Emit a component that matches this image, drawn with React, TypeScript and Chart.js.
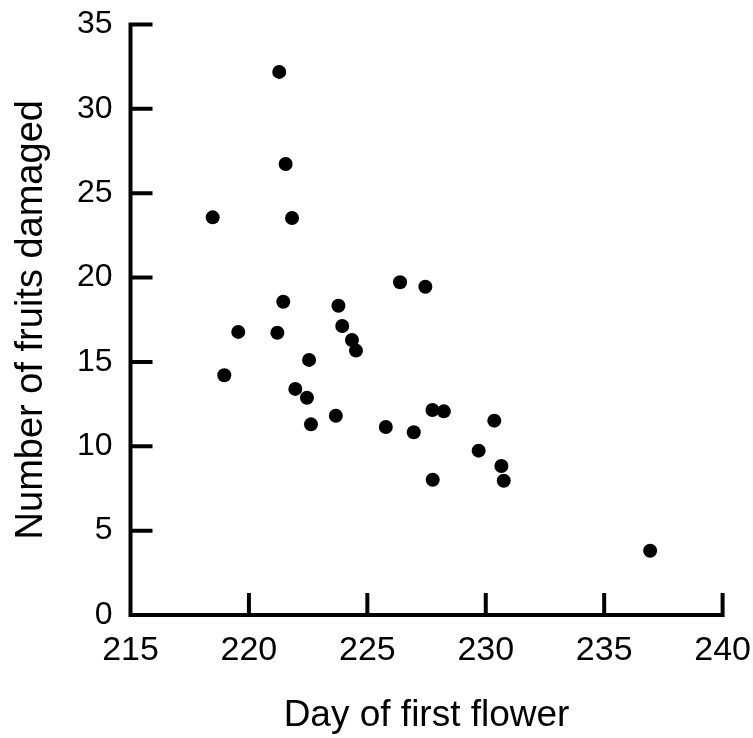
import React, { useEffect, useRef } from "react";
import { Chart, registerables } from "chart.js";

Chart.register(...registerables);

// Day of first flower (x) and number of fruits damaged (y) per plant
const firstFlowerDay: number[] = [
  218.47, 221.28, 221.55, 221.82, 218.96, 219.55, 221.2, 221.45, 221.96, 222.45,
  222.54, 222.62, 223.67, 223.78, 223.94, 224.35, 224.52, 225.78, 226.38, 226.96,
  227.45, 227.75, 228.23, 227.76, 229.7, 230.36, 230.66, 230.76, 236.94,
];
const fruitsDamaged: number[] = [
  23.57, 32.19, 26.73, 23.53, 14.21, 16.78, 16.73, 18.57, 13.4, 12.88,
  15.12, 11.3, 11.81, 18.33, 17.13, 16.3, 15.67, 11.14, 19.72, 10.83,
  19.46, 12.15, 12.07, 8.02, 9.74, 11.52, 8.83, 7.96, 3.81,
];

const xTicks: number[] = [215, 220, 225, 230, 235, 240];
const yTicks: number[] = [0, 5, 10, 15, 20, 25, 30, 35];

const FONT = "'Liberation Sans', Arial, Helvetica, sans-serif";
const W = 753;
const H = 738;

// Axis lines with inward-pointing tick marks
const axesPlugin = {
  id: "inwardAxes",
  beforeDatasetsDraw(chart: any) {
    const { ctx } = chart;
    const xs = chart.scales.x;
    const ys = chart.scales.y;
    const x0 = xs.getPixelForValue(xTicks[0]);
    const x1 = xs.getPixelForValue(xTicks[xTicks.length - 1]);
    const y0 = ys.getPixelForValue(yTicks[0]);
    const y1 = ys.getPixelForValue(yTicks[yTicks.length - 1]);
    const tickLen = 20;
    ctx.save();
    ctx.strokeStyle = "#000";
    ctx.lineWidth = 4;
    ctx.lineCap = "square";
    ctx.beginPath();
    ctx.moveTo(x0, y1);
    ctx.lineTo(x0, y0);
    ctx.lineTo(x1, y0);
    for (const v of yTicks) {
      const py = ys.getPixelForValue(v);
      ctx.moveTo(x0, py);
      ctx.lineTo(x0 + tickLen, py);
    }
    for (const v of xTicks) {
      const px = xs.getPixelForValue(v);
      ctx.moveTo(px, y0);
      ctx.lineTo(px, y0 - tickLen);
    }
    ctx.stroke();
    ctx.restore();
  },
};

const zeroPadding = (scale: any) => {
  scale.paddingTop = 0;
  scale.paddingBottom = 0;
  scale.paddingLeft = 0;
  scale.paddingRight = 0;
};

export default function App() {
  const canvasRef = useRef<HTMLCanvasElement | null>(null);

  useEffect(() => {
    const canvas = canvasRef.current;
    if (!canvas) return;
    const points = firstFlowerDay.map((d, i) => ({ x: d, y: fruitsDamaged[i] }));
    const chart = new Chart(canvas, {
      type: "scatter",
      data: {
        datasets: [
          {
            data: points,
            backgroundColor: "#000",
            borderWidth: 0,
            pointRadius: 7,
            pointHoverRadius: 7,
          },
        ],
      },
      options: {
        responsive: false,
        animation: false,
        events: [],
        layout: { padding: { top: 24.5, right: 30.4, left: 0, bottom: 0 } },
        plugins: {
          legend: { display: false },
          tooltip: { enabled: false },
        },
        scales: {
          x: {
            type: "linear",
            min: 215,
            max: 240,
            afterBuildTicks: (scale: any) => {
              scale.ticks = xTicks.map((v) => ({ value: v }));
            },
            afterFit: (scale: any) => {
              scale.height = H - 615;
              zeroPadding(scale);
            },
            grid: { display: false, drawTicks: false },
            border: { display: false },
            ticks: {
              color: "#000",
              padding: 15,
              maxRotation: 0,
              font: { family: FONT, size: 34 },
            },
            title: {
              display: true,
              text: "Day of first flower",
              color: "#000",
              font: { family: FONT, size: 37 },
              padding: { top: 0, bottom: 0 },
            },
          },
          y: {
            type: "linear",
            min: 0,
            max: 35,
            afterBuildTicks: (scale: any) => {
              scale.ticks = yTicks.map((v) => ({ value: v }));
            },
            afterFit: (scale: any) => {
              scale.width = 130.5;
              zeroPadding(scale);
            },
            grid: { display: false, drawTicks: false },
            border: { display: false },
            ticks: {
              color: "#000",
              padding: 18,
              font: { family: FONT, size: 32 },
            },
            title: {
              display: true,
              text: "Number of fruits damaged",
              color: "#000",
              font: { family: FONT, size: 38 },
              padding: { top: 9, bottom: 0 },
            },
          },
        },
      },
      plugins: [axesPlugin],
    });
    return () => chart.destroy();
  }, []);

  return (
    <div style={{ position: "absolute", left: 0, top: 0, width: W, height: H, background: "#fff" }}>
      <canvas ref={canvasRef} width={W} height={H} style={{ display: "block" }} />
    </div>
  );
}
